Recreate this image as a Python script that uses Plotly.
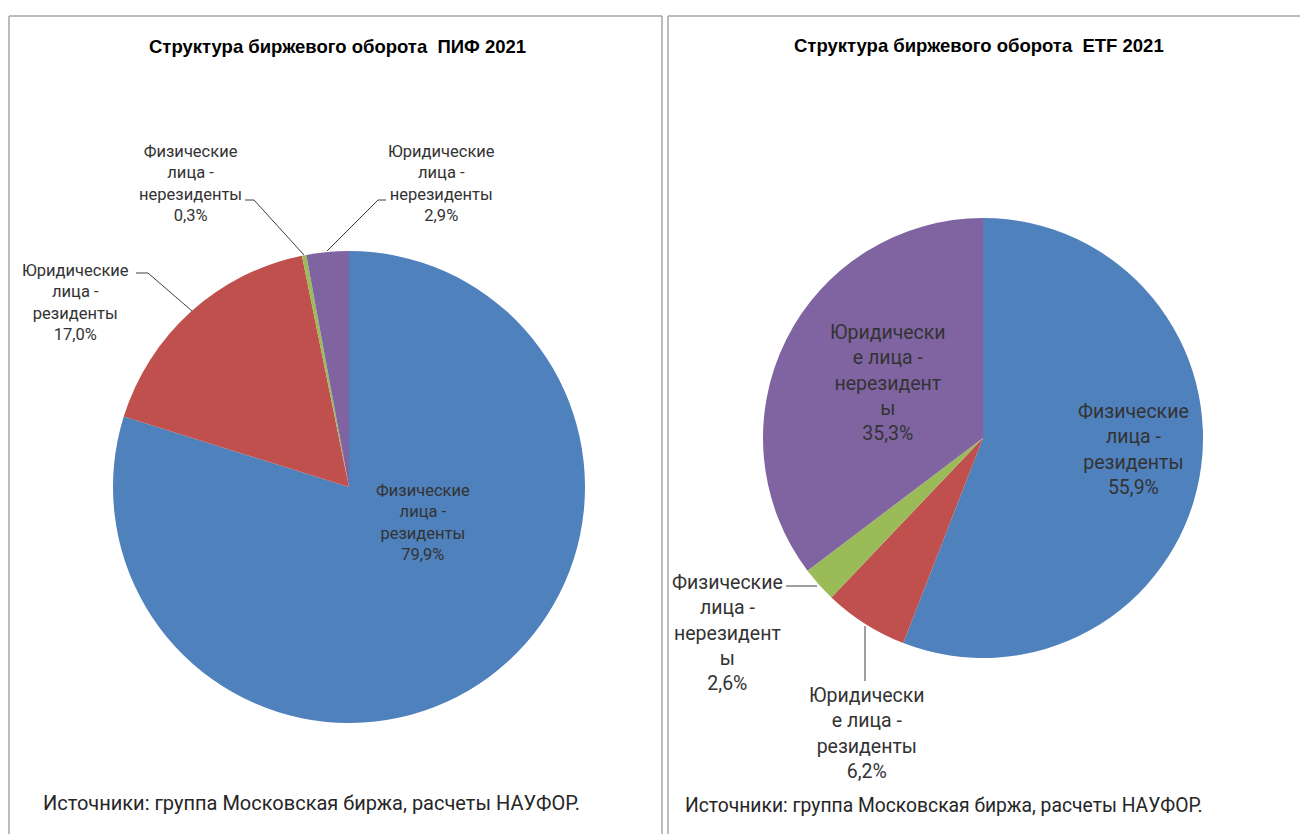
import plotly.graph_objects as go

W, H = 1300, 834

categories = ["Физические лица - резиденты", "Юридические лица - резиденты",
              "Физические лица - нерезиденты", "Юридические лица - нерезиденты"]
pif_values = [79.9, 17.0, 0.3, 2.9]
etf_values = [55.9, 6.2, 2.6, 35.3]
colors = ["#4F81BD", "#C0504D", "#9BBB59", "#8064A2"]

pif_title = "Структура биржевого оборота  ПИФ 2021"
etf_title = "Структура биржевого оборота  ETF 2021"
source = "Источники: группа Московская биржа, расчеты НАУФОР."

pif_labels = ["Физические<br>лица -<br>резиденты", "Юридические<br>лица -<br>резиденты",
              "Физические<br>лица -<br>нерезиденты", "Юридические<br>лица -<br>нерезиденты"]
etf_labels = ["Физические<br>лица -<br>резиденты", "Юридически<br>е лица -<br>резиденты",
              "Физические<br>лица -<br>нерезидент<br>ы", "Юридически<br>е лица -<br>нерезидент<br>ы"]


def fmt(v):
    return f"{v:.1f}".replace(".", ",") + "%"


def px(x, y):
    return x / W, 1 - y / H


def dom(cx, cy, r):
    return dict(x=[(cx - r) / W, (cx + r) / W], y=[1 - (cy + r) / H, 1 - (cy - r) / H])


fig = go.Figure()
fig.add_trace(go.Pie(labels=categories, values=pif_values, sort=False, direction="clockwise",
                     marker=dict(colors=colors, line=dict(width=0)), textinfo="none",
                     hoverinfo="label+percent", showlegend=False, domain=dom(349, 487, 236)))
fig.add_trace(go.Pie(labels=categories, values=etf_values, sort=False, direction="clockwise",
                     marker=dict(colors=colors, line=dict(width=0)), textinfo="none",
                     hoverinfo="label+percent", showlegend=False, domain=dom(983, 438, 220)))

LBL = "Roboto"
lcol = "#333333"
annots = []

def add_label(text, x, y, size):
    ax, ay = px(x, y)
    annots.append(dict(text=text, x=ax, y=ay, xref="paper", yref="paper", showarrow=False,
                       xanchor="center", yanchor="middle", align="center",
                       font=dict(family=LBL, size=size, color=lcol)))

# left pie labels (positions of text blocks)
pif_pos = [(423, 522), (75, 303), (190, 184), (441, 184)]
for lab, v, (x, y) in zip(pif_labels, pif_values, pif_pos):
    add_label(lab + "<br>" + fmt(v), x, y, 16.5)

etf_pos = [(1133, 449), (867, 733), (727, 633), (888, 383)]
for lab, v, (x, y) in zip(etf_labels, etf_values, etf_pos):
    add_label(lab + "<br>" + fmt(v), x, y, 19.5)

# titles
for t, x, y in [(pif_title, 337, 47), (etf_title, 979, 45)]:
    ax, ay = px(x, y)
    annots.append(dict(text="<b>" + t + "</b>", x=ax, y=ay, xref="paper", yref="paper",
                       showarrow=False, xanchor="center", yanchor="middle",
                       font=dict(family="Liberation Sans, Arial, sans-serif", size=18.5, color="#000000")))

# sources
for x, y, s in [(41, 803, 20), (683, 805, 19.3)]:
    ax, ay = px(x, y)
    annots.append(dict(text=source, x=ax, y=ay, xref="paper", yref="paper", showarrow=False,
                       xanchor="left", yanchor="middle",
                       font=dict(family=LBL, size=s, color="#262626")))

shapes = []
# chart borders
def rect_lines(x0, x1, y0, y1):
    for (a, b, c, d) in [(x0, y0, x1, y0), (x0, y0, x0, y1), (x1, y0, x1, y1)]:
        p0 = px(a, b); p1 = px(c, d)
        shapes.append(dict(type="line", xref="paper", yref="paper", x0=p0[0], y0=p0[1],
                           x1=p1[0], y1=p1[1], line=dict(color="#A6A6A6", width=1.5)))

rect_lines(9, 662, 16, 840)
rect_lines(668, 1310, 16, 840)

# leader lines
def leader(points):
    path = ""
    for i, (x, y) in enumerate(points):
        a, b = px(x, y)
        path += ("M" if i == 0 else "L") + f" {a} {b} "
    shapes.append(dict(type="path", xref="paper", yref="paper", path=path,
                       line=dict(color="#404040", width=1)))

leader([(245, 200), (254, 200), (304, 255)])
leader([(386, 200), (378, 200), (327, 251)])
leader([(136, 273), (148, 273), (192, 311)])
leader([(786, 586), (817, 586)])
leader([(865, 681), (865, 626)])

fig.update_layout(width=W, height=H, margin=dict(l=0, r=0, t=0, b=0),
                  paper_bgcolor="white", plot_bgcolor="white",
                  annotations=annots, shapes=shapes)

fig.write_html("out.html", config={"displayModeBar": False},
               post_script="document.body.style.margin='0';document.body.style.overflow='hidden';")
